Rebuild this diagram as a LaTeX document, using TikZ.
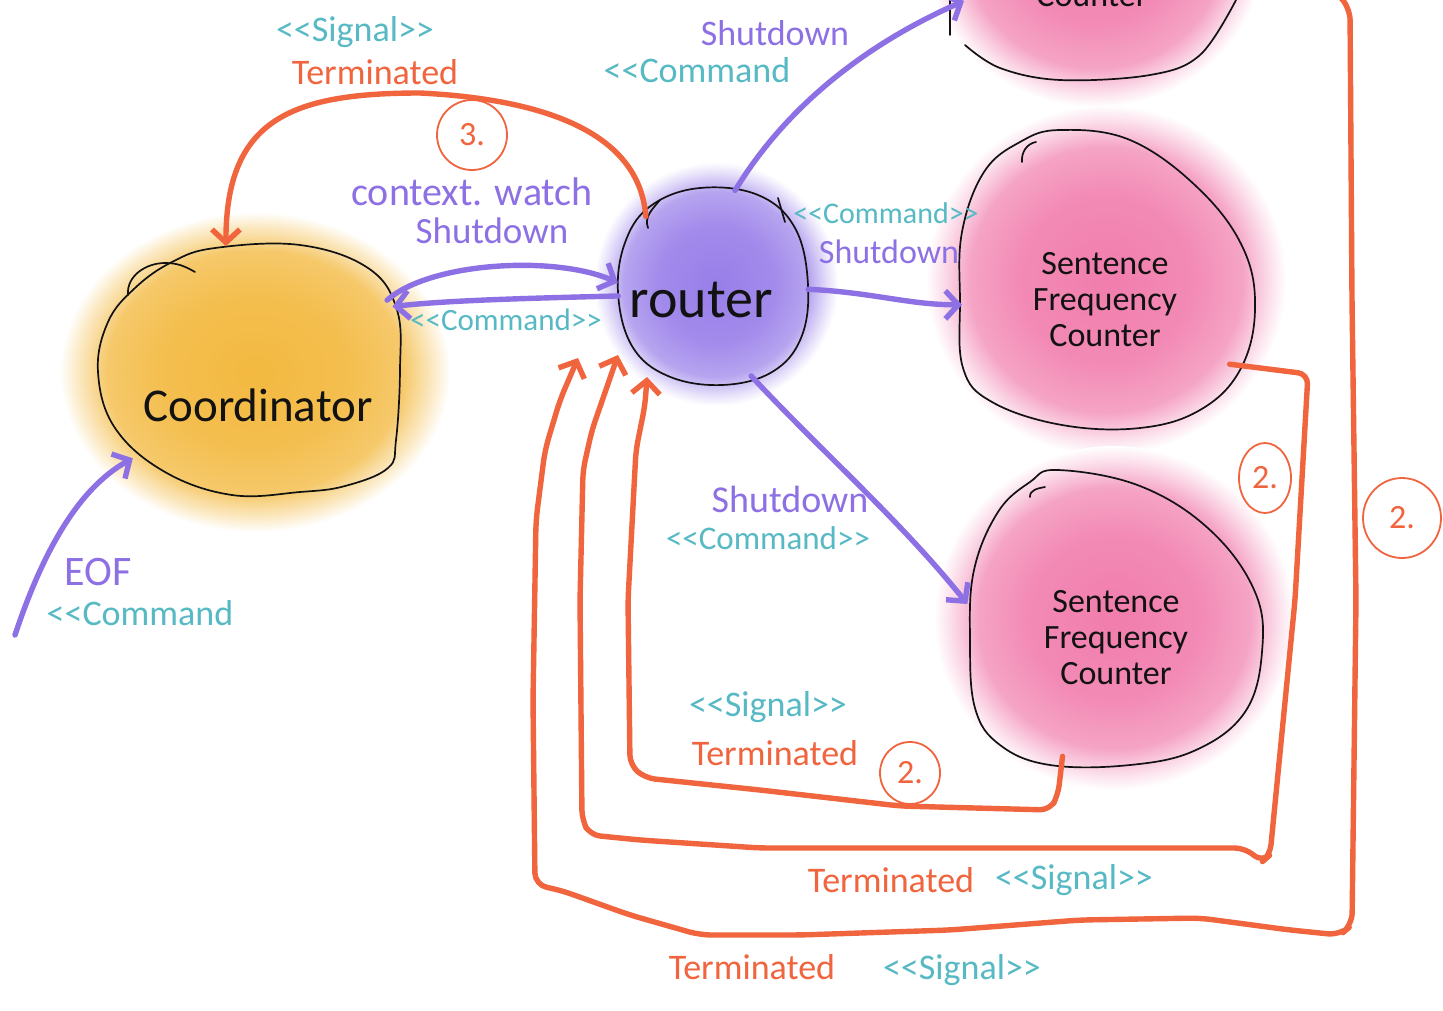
\documentclass[tikz,border=0pt]{standalone}
\usepackage{fontspec}
\setmainfont{Carlito}
\usetikzlibrary{arrows.meta,calc,shapes.geometric}

\definecolor{ink}{RGB}{18,18,18}
\definecolor{sigorange}{RGB}{240,100,62}
\definecolor{cmdpurple}{RGB}{141,113,228}
\definecolor{tealtext}{RGB}{86,185,196}
\definecolor{goldwash}{RGB}{243,185,64}
\definecolor{violetwash}{RGB}{152,126,233}
\definecolor{pinkwash}{RGB}{241,125,173}

% soft watercolour washes: solid core, fading edge
\pgfdeclareradialshading{goldglow}{\pgfpoint{0bp}{0bp}}{%
  color(0bp)=(goldwash); color(12bp)=(goldwash!92!white);
  color(19bp)=(goldwash!78!white); color(23bp)=(goldwash!28!white);
  color(25bp)=(white); color(50bp)=(white)}
\pgfdeclareradialshading{violetglow}{\pgfpoint{0bp}{0bp}}{%
  color(0bp)=(violetwash); color(12bp)=(violetwash!90!white);
  color(19bp)=(violetwash!70!white); color(23bp)=(violetwash!22!white);
  color(25bp)=(white); color(50bp)=(white)}
\pgfdeclareradialshading{pinkglow}{\pgfpoint{0bp}{0bp}}{%
  color(0bp)=(pinkwash); color(12bp)=(pinkwash!90!white);
  color(19bp)=(pinkwash!70!white); color(23bp)=(pinkwash!22!white);
  color(25bp)=(white); color(50bp)=(white)}

\tikzset{
  blob/.style={ellipse, inner sep=0pt},
  nodetext/.style={font=\fontsize{34}{36}\selectfont, text=ink, inner sep=0pt, align=center},
  outline/.style={draw=ink, line width=1.7pt, line cap=round, line join=round},
  lbl/.style={font=\fontsize{36}{40}\selectfont, inner sep=0pt},
  cmdlbl/.style={lbl, text=cmdpurple},
  typelbl/.style={lbl, text=tealtext},
  siglbl/.style={lbl, text=sigorange},
  cmdarrow/.style={draw=cmdpurple, line width=5.4pt, line cap=round, line join=round,
    -{Straight Barb[length=13pt,width=28pt]}},
  sigarrow/.style={draw=sigorange, line width=5.4pt, line cap=round, line join=round,
    -{Straight Barb[length=13pt,width=28pt]}},
  numring/.style={ellipse, draw=sigorange, line width=1.8pt, text=sigorange,
    font=\fontsize{34}{36}\selectfont, inner sep=0pt},
}

\begin{document}
\begin{tikzpicture}[x=1pt,y=-1pt]
\useasboundingbox (0,0) rectangle (1443,1010);
\fill[white] (0,0) rectangle (1443,1010);

% washes
\shade[shading=goldglow] (255,372) ellipse [x radius=195pt, y radius=160pt];
\shade[shading=violetglow] (716,284) ellipse [x radius=122pt, y radius=122pt];
\shade[shading=pinkglow] (1106,280) ellipse [x radius=180pt, y radius=175pt];
\shade[shading=pinkglow] (1114,618) ellipse [x radius=180pt, y radius=172pt];
\shade[shading=pinkglow] (1095,-55) ellipse [x radius=170pt, y radius=162pt];

% actors
\node[blob, minimum width=330pt, minimum height=250pt,
  label={[nodetext, font=\fontsize{47}{49}\selectfont, xshift=8pt, yshift=-35pt]center:Coordinator}]
  (coord) at (250,370) {};
\node[blob, minimum width=190pt, minimum height=196pt,
  label={[nodetext, font=\fontsize{56}{58}\selectfont, xshift=-12pt, yshift=-14pt]center:router}]
  (router) at (713,286) {};
\node[blob, minimum width=296pt, minimum height=298pt,
  label={[nodetext, xshift=-3pt, yshift=-21pt]center:Sentence\\Frequency\\Counter}]
  (sfcA) at (1108,279) {};
\node[blob, minimum width=298pt, minimum height=298pt,
  label={[nodetext, xshift=0pt, yshift=-21pt]center:Sentence\\Frequency\\Counter}]
  (sfcB) at (1116,617) {};
\node[blob, minimum width=290pt, minimum height=300pt,
  label={[nodetext, xshift=0pt, yshift=-30pt]center:Sentence\\Frequency\\Counter}]
  (sfcC) at (1092,-70) {};

% ink outlines
\draw[outline] plot[smooth cycle, tension=0.65] coordinates {(215,248) (300,245) (368,268) (397,310)
  (400,370) (396,440) (388,468) (345,486) (300,492) (232,495) (165,472) (115,428) (98,372)
  (108,322) (135,288) (172,262)};
\draw[outline] (128,295) to[out=95,in=180] (165,263) to[out=0,in=150] (195,272);

\draw[outline] plot[smooth cycle, tension=0.65] coordinates {(700,188) (758,195) (795,228) (808,285)
  (801,338) (772,372) (722,385) (668,376) (632,346) (618,292) (626,240) (652,205)};
\draw[outline] (648,228) to[out=110,in=230] (660,200);
\draw[outline] (778,198) -- (785,222);

\draw[outline] plot[smooth cycle, tension=0.65] coordinates {(1060,130) (1130,140) (1198,188)
  (1243,248) (1255,310) (1240,370) (1200,410) (1140,428) (1062,425) (992,402) (963,368) (960,300)
  (962,232) (984,172) (1020,142)};
\draw[outline] (1022,162) to[out=95,in=190] (1036,142);

\draw[outline] plot[smooth cycle, tension=0.65] coordinates {(1058,470) (1140,486) (1210,530)
  (1255,592) (1262,652) (1245,712) (1196,750) (1130,765) (1050,765) (1000,745) (975,708) (970,640)
  (974,570) (998,512) (1030,482)};
\draw[outline] (1030,497) to[out=95,in=190] (1045,487);

\draw[outline] (950,0) -- (950,35);
\draw[outline] plot[smooth, tension=0.6] coordinates {(965,45) (1000,68) (1060,80) (1150,75)
  (1200,55) (1236,0)};

% commands
\coordinate (eofstart) at (15,635);
\draw[cmdarrow] (eofstart) .. controls (40,560) and (75,490) .. (coord.217);
\draw[cmdarrow] (coord.27) .. controls (430,262) and (555,255) .. (router.178);
\draw[cmdarrow] (router.186) .. controls (540,298) and (450,300) .. (coord.24);
\draw[cmdarrow] (router.77) .. controls (790,100) and (875,40) .. (sfcC.209);
\draw[cmdarrow] (router.358) .. controls (870,292) and (910,305) .. (sfcA.190);
\draw[cmdarrow] (router.293) .. controls (820,450) and (900,520) .. (sfcB.175);

% termination signals
\draw[sigarrow] (router.134) .. controls (640,140) and (560,100) .. (420,93)
  .. controls (290,93) and (226,120) .. (coord.101);
\draw[sigarrow, rounded corners=10pt] (sfcB.249) -- (1058,795) -- (1050,810) -- (900,806)
  -- (760,790) -- (645,778) -- (630,765) -- (628,600) -- (636,450) -- (645,405)
  -- ($(router.center)+(-66,91)$);
\draw[sigarrow, rounded corners=10pt] (sfcA.325) -- (1308,374) -- (1295,600) -- (1270,855)
  -- (1262,862) -- (1245,848) -- (1000,848) -- (760,848) -- (640,840) -- (590,835) -- (582,820)
  -- (580,600) -- (583,470) -- (592,430) -- ($(router.center)+(-95,69)$);
\draw[sigarrow, rounded corners=12pt] (sfcC.25) -- (1350,8) -- (1352,300) -- (1356,600)
  -- (1352,925) -- (1340,935) -- (1290,930) -- (1200,918) -- (1080,920) -- (950,930)
  -- (800,935) -- (700,935) -- (630,915) -- (560,890) -- (535,885) -- (533,700) -- (536,520)
  -- (545,450) -- (560,400) -- ($(router.center)+(-135,72)$);

% labels
\node[typelbl] (l1) at (355,32) {<{}<Signal>{}>};
\node[siglbl] (l2) at (375,72) {Terminated};
\node[numring, minimum width=70pt, minimum height=70pt] (n3) at (472,135) {3.};
\node[cmdlbl] (l3) at (775,33) {Shutdown};
\node[typelbl] (l4) at (697,70) {<{}<Command};
\node[cmdlbl, font=\fontsize{40}{42}\selectfont] (l5) at (472,192) {context. watch};
\node[cmdlbl, font=\fontsize{37}{40}\selectfont] (l6) at (492,231) {Shutdown};
\node[typelbl, font=\fontsize{31}{34}\selectfont] (l7) at (506,320) {<{}<Command>{}>};
\node[typelbl, font=\fontsize{30}{32}\selectfont] (l8) at (886,213) {<{}<Command>{}>};
\node[cmdlbl, font=\fontsize{34}{36}\selectfont] (l9) at (889,252) {Shutdown};
\node[cmdlbl, font=\fontsize{38}{40}\selectfont] (l10) at (790,499) {Shutdown};
\node[typelbl, font=\fontsize{33}{36}\selectfont] (l11) at (768,538) {<{}<Command>{}>};
\node[cmdlbl, font=\fontsize{42}{44}\selectfont] (l12) at (98,572) {EOF};
\node[typelbl] (l13) at (140,613) {<{}<Command};
\node[typelbl] (l14) at (768,707) {<{}<Signal>{}>};
\node[siglbl] (l15) at (775,753) {Terminated};
\node[numring, minimum width=60pt, minimum height=62pt] (n2a) at (910,773) {2.};
\node[numring, minimum width=52pt, minimum height=70pt] (n2b) at (1265,478) {2.};
\node[numring, minimum width=78pt, minimum height=80pt] (n2c) at (1402,518) {2.};
\node[siglbl] (l16) at (891,880) {Terminated};
\node[typelbl] (l17) at (1074,880) {<{}<Signal>{}>};
\node[siglbl] (l18) at (752,967) {Terminated};
\node[typelbl] (l19) at (962,970) {<{}<Signal>{}>};
\end{tikzpicture}
\end{document}
